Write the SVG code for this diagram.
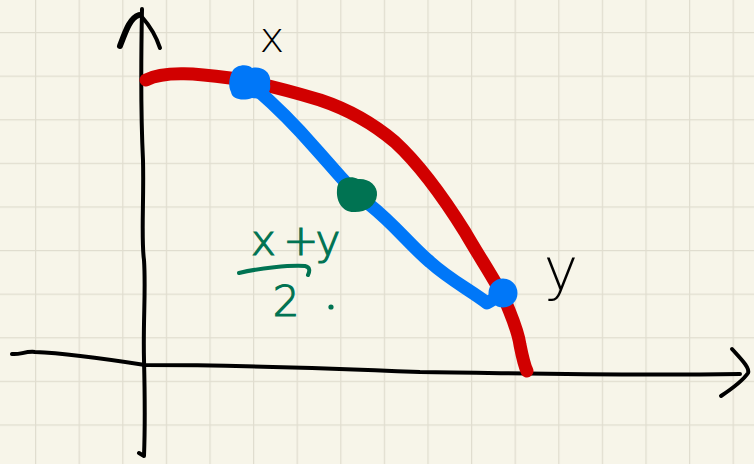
<svg xmlns="http://www.w3.org/2000/svg" width="754" height="464" viewBox="0 0 754 464">
  <defs>
    <pattern id="grid" x="35" y="32" width="43.6" height="43.6" patternUnits="userSpaceOnUse">
      <path d="M0 0 H43.6 M0 0 V43.6" fill="none" stroke="#e0ddcf" stroke-width="2.5"/>
    </pattern>
    <style>
      .ink { fill: none; stroke-linecap: round; stroke-linejoin: round; }
      .axis { stroke: #000; stroke-width: 4; }
      .hand { font-family: "DejaVu Sans", "Liberation Sans", sans-serif; font-weight: 300; }
      .green { fill: #007352; stroke: #007352; stroke-width: 1.2; }
    </style>
  </defs>
  <rect width="754" height="464" fill="#f7f5e9"/>
  <rect width="754" height="464" fill="url(#grid)"/>

  <g id="axes">
    <g id="y-axis">
      <path class="ink axis" d="M142 9 C141 60 141 120 143 160 C144 200 141 240 144 260 C146 290 143 320 144 360 C145 400 145 430 144 456 L139 453"/>
      <path class="ink" stroke="#000" stroke-width="6" d="M120 46 C126 30 130 18 139 15"/>
      <path class="ink axis" d="M142 17 C150 26 156 36 160 48"/>
    </g>
    <g id="x-axis">
      <path class="ink axis" d="M12 354 C20 355 25 351 35 352 C60 353 100 358 145 365 C200 365 300 367 420 372 C520 373 600 376 740 374"/>
      <path class="ink axis" d="M732 349 C742 360 750 368 748 373 C742 382 730 390 721 396"/>
    </g>
  </g>

  <g id="connectors">
    <path id="red-curve" class="ink" stroke="#d10000" stroke-width="13" d="M146 80 C165 70 200 74 230 78 C260 83 290 91 320 100 C350 110 375 125 395 142 C420 165 445 200 465 232 C480 258 495 280 505 300 C512 318 518 330 520 345 C522 355 524 365 527 371"/>
    <path id="blue-chord" class="ink" stroke="#0077f8" stroke-width="13" d="M255 88 C275 105 295 125 315 148 C335 170 350 190 370 205 C395 225 410 245 430 262 C450 280 470 290 487 303 C493 300 498 296 503 293"/>
  </g>

  <g id="node-x">
    <path fill="#0077f8" d="M232 72 C236 64 248 64 252 68 C262 66 272 72 270 84 C272 95 262 100 252 98 C244 101 232 100 231 92 C228 86 229 78 232 72 Z"/>
    <text class="hand" x="272" y="52" font-size="42" text-anchor="middle" fill="#000">x</text>
  </g>
  <g id="node-y">
    <circle cx="503" cy="293" r="14.5" fill="#0077f8"/>
    <text class="hand" x="561" y="290" font-size="58" text-anchor="middle" fill="#000">y</text>
  </g>
  <g id="node-mid">
    <path fill="#007352" d="M337 190 C337 178 350 175 358 179 C368 178 378 185 377 195 C376 206 366 212 355 212 C343 213 336 202 337 190 Z"/>
    <g>
      <text class="hand green" x="251" y="255" font-size="42" letter-spacing="-3">x +y</text>
      <path class="ink" stroke="#007352" stroke-width="4" d="M239 273 C260 268 290 265 305 266 C310 267 310 271 308 275"/>
      <text class="hand green" x="286" y="316" font-size="42" text-anchor="middle">2</text>
      <circle cx="331" cy="307" r="2.6" fill="#007352"/>
    </g>
  </g>
</svg>
